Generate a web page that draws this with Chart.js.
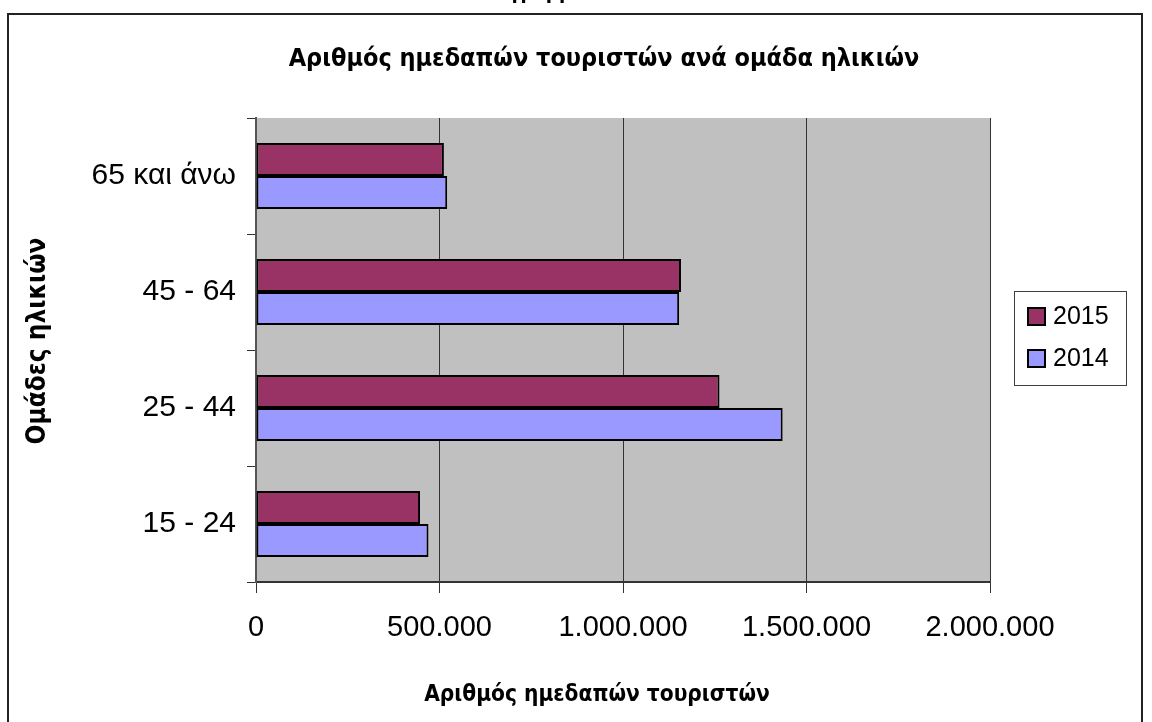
<!DOCTYPE html>
<html>
<head>
<meta charset="utf-8">
<script src="https://cdn.jsdelivr.net/npm/chart.js@4"></script>
<style>
  body { margin: 0; background: #fff; }
  #wrap { position: relative; width: 1152px; height: 722px; }
</style>
</head>
<body>
<div id="wrap"><canvas id="chart" width="1152" height="722"></canvas></div>
<script>
// Data
const categories = ['65 και άνω', '45 - 64', '25 - 44', '15 - 24'];
const values2015 = [512000, 1158000, 1263000, 447000];
const values2014 = [521000, 1153000, 1435000, 470000];
const seriesLabels = ['2015', '2014'];
const xTicksMax = 2000000;
const xTickStep = 500000;

const chartTitle = 'Αριθμός ημεδαπών τουριστών ανά ομάδα ηλικιών';
const xTitle = 'Αριθμός ημεδαπών τουριστών';
const yTitle = 'Ομάδες ηλικιών';
const cutTitle = 'Διάγραμμα';

const boldFamily = '"DejaVu Sans Condensed", "DejaVu Sans", sans-serif';
const tickFamily = '"Liberation Sans", Arial, sans-serif';

function formatNumber(v) {
    return String(v).replace(/\B(?=(\d{3})+(?!\d))/g, '.');
}

// Frame, plot background, titles and legend
const decorPlugin = {
    id: 'decor',
    beforeDraw(chart) {
        const { ctx, chartArea } = chart;
        ctx.save();
        ctx.fillStyle = '#c0c0c0';
        ctx.fillRect(chartArea.left, chartArea.top,
            chartArea.right - chartArea.left, chartArea.bottom - chartArea.top);
        ctx.restore();
    },
    afterDraw(chart) {
        const { ctx } = chart;
        ctx.save();

        // outer frame
        ctx.strokeStyle = '#222';
        ctx.lineWidth = 2;
        ctx.strokeRect(8, 14, 1134, 730);

        // text cut off at the top edge
        ctx.fillStyle = '#000';
        ctx.font = 'bold 20px ' + boldFamily;
        ctx.textAlign = 'left';
        ctx.textBaseline = 'alphabetic';
        ctx.fillText(cutTitle, 475, -1);

        // titles
        ctx.textAlign = 'center';
        ctx.textBaseline = 'middle';
        ctx.font = 'bold 25px ' + boldFamily;
        ctx.fillText(chartTitle, 604, 59);
        ctx.font = 'bold 22.5px ' + boldFamily;
        ctx.fillText(xTitle, 597, 695);

        ctx.save();
        ctx.font = 'bold 26px ' + boldFamily;
        ctx.translate(38, 341);
        ctx.rotate(-Math.PI / 2);
        ctx.fillText(yTitle, 0, 0);
        ctx.restore();

        // legend
        ctx.strokeStyle = '#404040';
        ctx.lineWidth = 1;
        ctx.strokeRect(1014.5, 291.5, 112, 94);
        ctx.font = '25px ' + tickFamily;
        ctx.textAlign = 'left';
        chart.data.datasets.forEach((ds, i) => {
            const y = 308 + i * 42;
            ctx.fillStyle = ds.backgroundColor;
            ctx.fillRect(1028, y, 17, 17);
            ctx.strokeStyle = '#000';
            ctx.lineWidth = 2;
            ctx.strokeRect(1028, y, 17, 17);
            ctx.fillStyle = '#000';
            ctx.fillText(ds.label, 1053, y + 9);
        });

        ctx.restore();
    }
};

const ctx = document.getElementById('chart').getContext('2d');

new Chart(ctx, {
    type: 'bar',
    data: {
        labels: categories,
        datasets: [
            {
                label: seriesLabels[0],
                data: values2015,
                backgroundColor: '#993366',
                borderColor: '#000',
                borderWidth: 2,
                borderSkipped: false
            },
            {
                label: seriesLabels[1],
                data: values2014,
                backgroundColor: '#9999ff',
                borderColor: '#000',
                borderWidth: 2,
                borderSkipped: false
            }
        ]
    },
    options: {
        indexAxis: 'y',
        responsive: false,
        animation: false,
        categoryPercentage: 0.57,
        barPercentage: 1.0,
        layout: {
            padding: { top: 118, right: 162, left: 56, bottom: 40 }
        },
        plugins: {
            legend: { display: false },
            title: { display: false },
            tooltip: { enabled: false }
        },
        scales: {
            x: {
                min: 0,
                max: xTicksMax,
                afterFit: s => { s.height = 100; },
                ticks: {
                    stepSize: xTickStep,
                    color: '#000',
                    padding: 18,
                    maxRotation: 0,
                    font: { family: tickFamily, size: 29 },
                    callback: v => formatNumber(v)
                },
                grid: {
                    color: '#333',
                    lineWidth: 1,
                    tickLength: 11
                },
                border: { color: '#333', width: 2 }
            },
            y: {
                afterFit: s => { s.width = 200; },
                ticks: {
                    color: '#000',
                    padding: 11,
                    font: { family: tickFamily, size: 30 }
                },
                grid: {
                    drawOnChartArea: false,
                    color: '#333',
                    tickLength: 9,
                    offset: true
                },
                border: { color: '#555', width: 2 }
            }
        }
    },
    plugins: [decorPlugin]
});
</script>
</body>
</html>
